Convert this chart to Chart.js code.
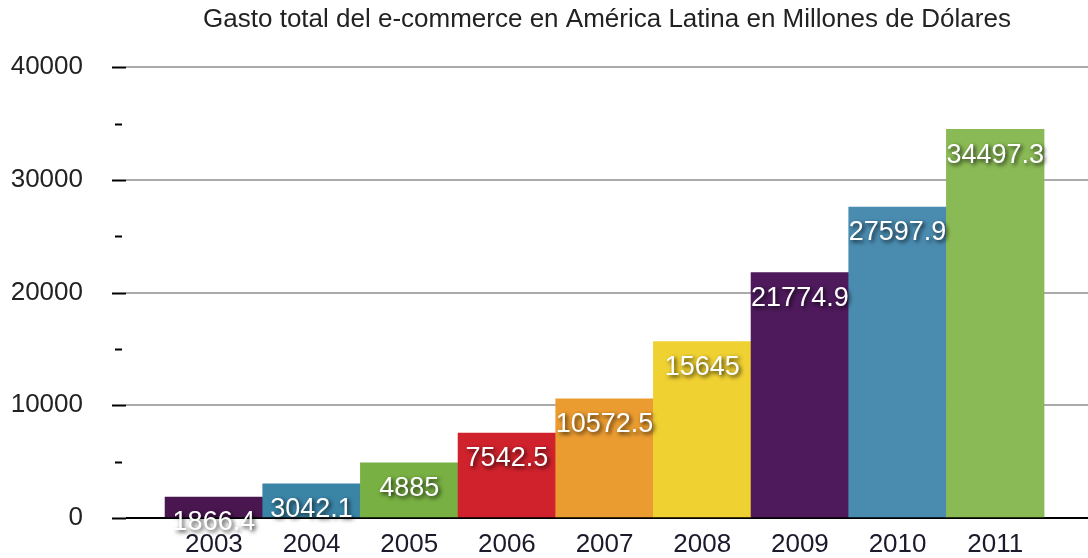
<!DOCTYPE html>
<html>
<head>
<meta charset="utf-8">
<script src="https://cdn.jsdelivr.net/npm/chart.js@4"></script>
<style>
  html, body { margin: 0; padding: 0; background: #fff; }
  #wrap { width: 1088px; height: 558px; }
</style>
</head>
<body>
<div id="wrap"><canvas id="chart" width="1088" height="558"></canvas></div>
<script>
const years = [2003, 2004, 2005, 2006, 2007, 2008, 2009, 2010, 2011];
const spending = [1866.4, 3042.1, 4885, 7542.5, 10572.5, 15645, 21774.9, 27597.9, 34497.3];
const barColors = [
  '#4a1650', // purple
  '#3a84a6', // blue
  '#78b043', // green
  '#d0222c', // red
  '#eb9c30', // orange
  '#f0d132', // yellow
  '#4e1a5c', // purple
  '#4a8cb0', // blue
  '#8aba55'  // green
];
const yTicks = [0, 10000, 20000, 30000, 40000];
const titleText = 'Gasto total del e-commerce en América Latina en Millones de Dólares';

const fontFamily = '"Liberation Sans", Arial, Helvetica, sans-serif';

// tick marks left of the plot: long ones on labelled values, short ones halfway
const tickMarks = {
  id: 'tickMarks',
  afterDraw(chart) {
    const ctx = chart.ctx;
    const y = chart.scales.y;
    const left = chart.chartArea.left;
    ctx.save();
    ctx.strokeStyle = '#000';
    ctx.lineWidth = 2;
    y.ticks.forEach(t => {
      const py = Math.round(y.getPixelForValue(t.value)) + 0.5;
      const major = yTicks.includes(t.value);
      ctx.beginPath();
      if (major) {
        ctx.moveTo(left - 14, py);
        ctx.lineTo(left, py);
      } else {
        ctx.moveTo(left - 11, py);
        ctx.lineTo(left - 4, py);
      }
      ctx.stroke();
    });
    ctx.restore();
  }
};

// white values near the top of each bar
const barValues = {
  id: 'barValues',
  afterDatasetsDraw(chart) {
    const ctx = chart.ctx;
    const meta = chart.getDatasetMeta(0);
    ctx.save();
    ctx.font = '27px ' + fontFamily;
    ctx.textAlign = 'center';
    ctx.textBaseline = 'middle';
    ctx.fillStyle = '#fff';
    ctx.shadowColor = 'rgba(0,0,0,0.8)';
    ctx.shadowBlur = 4;
    ctx.shadowOffsetX = 2;
    ctx.shadowOffsetY = 2;
    meta.data.forEach((bar, i) => {
      ctx.fillText(String(spending[i]), bar.x, bar.y + 26);
    });
    ctx.restore();
  }
};

new Chart(document.getElementById('chart'), {
  type: 'bar',
  data: {
    datasets: [{
      data: years.map((yr, i) => ({ x: yr, y: spending[i] })),
      backgroundColor: barColors,
      borderWidth: 0,
      barPercentage: 1,
      categoryPercentage: 1
    }]
  },
  options: {
    responsive: false,
    maintainAspectRatio: false,
    animation: false,
    layout: { padding: 0 },
    plugins: {
      legend: { display: false },
      tooltip: { enabled: false },
      title: {
        display: true,
        fullSize: false,
        text: titleText,
        color: '#222',
        font: { family: fontFamily, size: 26, weight: 'normal' },
        padding: { top: 4, bottom: 32 }
      }
    },
    scales: {
      x: {
        type: 'linear',
        offset: false,
        min: 2002.1,
        max: 2011.95,
        afterBuildTicks(scale) {
          scale.ticks = years.map(v => ({ value: v }));
        },
        afterFit(scale) { scale.height = 40; },
        grid: { display: false, drawTicks: false },
        border: { display: false },
        ticks: {
          color: '#1a1a2a',
          font: { family: fontFamily, size: 26 },
          padding: 11,
          maxRotation: 0,
          autoSkip: false,
          callback: v => String(v)
        }
      },
      y: {
        min: 0,
        max: 40000,
        afterFit(scale) {
          scale.width = 126;
          // the large label gap should not push the plot in from top and bottom
          scale.paddingTop = 16;
          scale.paddingBottom = 16;
        },
        grid: {
          drawTicks: false,
          lineWidth: 2,
          color: ctx => {
            const v = ctx.tick ? ctx.tick.value : null;
            if (v === 0) return '#000';
            return yTicks.includes(v) ? '#aaaaaa' : 'rgba(0,0,0,0)';
          }
        },
        border: { display: false },
        ticks: {
          stepSize: 5000,
          padding: 43,
          color: '#222',
          font: { family: fontFamily, size: 26 },
          callback: v => yTicks.includes(v) ? String(v) : ''
        }
      }
    }
  },
  plugins: [tickMarks, barValues]
});
</script>
</body>
</html>
